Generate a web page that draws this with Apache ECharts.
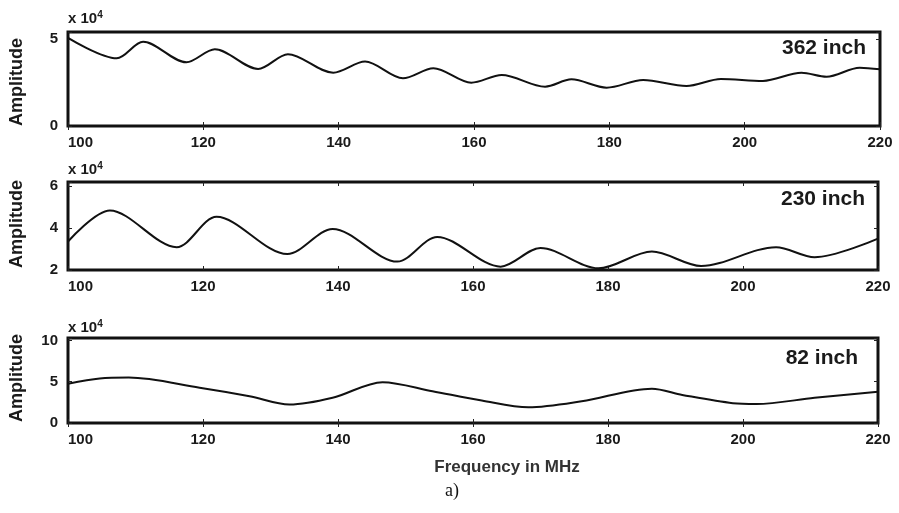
<!DOCTYPE html>
<html><head><meta charset="utf-8">
<script src="https://cdn.jsdelivr.net/npm/echarts@6/dist/echarts.min.js"></script>
<style>html,body{margin:0;padding:0;background:#fff}#c{width:899px;height:513px}</style>
</head><body><div id="c"></div>
<script>
// Frequency tick labels (MHz)
const xTicks = [100, 120, 140, 160, 180, 200, 220];
const panelLabels = ['362 inch', '230 inch', '82 inch'];

// 362 inch (amplitude in units of 1e4)
const freq362 = [100, 107.2, 111.1, 117.5, 121.7, 128.1, 132.5, 139.2, 143.9, 149.5, 154.0, 159.6, 164.1, 170.5, 174.4, 179.6, 185.0, 191.4, 196.5, 202.7, 208.4, 212.1, 217.0, 220];
const amp362  = [5.06, 3.89, 4.84, 3.66, 4.41, 3.28, 4.12, 3.06, 3.70, 2.74, 3.32, 2.49, 2.93, 2.26, 2.68, 2.20, 2.64, 2.30, 2.70, 2.59, 3.06, 2.83, 3.35, 3.26];

// 230 inch
const freq230 = [100, 106.2, 116.1, 122.0, 132.5, 139.2, 148.8, 154.7, 164.1, 170.0, 178.6, 186.5, 193.8, 204.9, 210.6, 220];
const amp230  = [3.36, 4.84, 3.09, 4.54, 2.76, 3.96, 2.40, 3.58, 2.16, 3.05, 2.08, 2.88, 2.19, 3.09, 2.61, 3.50];

// 82 inch
const freq82 = [100, 104.7, 109, 119.5, 126.9, 132.8, 139.2, 146.6, 154, 161.3, 168.2, 176.1, 186.5, 191, 198.5, 202, 210.6, 220];
const amp82  = [4.76, 5.40, 5.50, 4.27, 3.24, 2.23, 3.05, 4.95, 3.85, 2.72, 1.90, 2.63, 4.15, 3.40, 2.40, 2.30, 3.05, 3.78];

const FONT = '"Liberation Sans", Arial, sans-serif';
const TXT = '#1a1a1a';

const grids = [
  {left: 68, top: 32, width: 812, height: 94},
  {left: 68, top: 182, width: 810, height: 88},
  {left: 68, top: 338, width: 810, height: 85}
];
const yCfg = [
  {min: 0, max: 5.4, interval: 5},
  {min: 2, max: 6.2, interval: 2},
  {min: 0, max: 10.3, interval: 5}
];
const seriesData = [
  freq362.map((f, i) => [f, amp362[i]]),
  freq230.map((f, i) => [f, amp230[i]]),
  freq82.map((f, i) => [f, amp82[i]])
];

const xAxis = [], yAxis = [], series = [];
grids.forEach((g, i) => {
  xAxis.push({
    type: 'value', gridIndex: i, min: xTicks[0], max: xTicks[xTicks.length - 1], interval: 20,
    position: 'bottom',
    axisLine: {show: false}, splitLine: {show: false},
    axisTick: {show: true, inside: true, length: 4, lineStyle: {color: '#222', width: 1}},
    axisLabel: {show: true, margin: 9, color: TXT, fontFamily: FONT, fontWeight: 'bold', fontSize: 15, alignMinLabel: 'left'}
  });
  xAxis.push({
    type: 'value', gridIndex: i, min: xTicks[0], max: xTicks[xTicks.length - 1], interval: 20,
    position: 'top',
    axisLine: {show: false}, splitLine: {show: false},
    axisTick: {show: true, inside: true, length: 4, lineStyle: {color: '#222', width: 1}},
    axisLabel: {show: false}
  });
  const yc = yCfg[i];
  const fmt = v => (Math.abs(v / yc.interval - Math.round(v / yc.interval)) < 1e-6 ? String(Math.round(v)) : '');
  yAxis.push({
    type: 'value', gridIndex: i, min: yc.min, max: yc.max, interval: yc.interval, position: 'left',
    axisLine: {show: false}, splitLine: {show: false},
    axisTick: {show: true, inside: true, length: 4, lineStyle: {color: '#222', width: 1}},
    axisLabel: {show: true, margin: 10, color: TXT, fontFamily: FONT, fontWeight: 'bold', fontSize: 15, formatter: fmt}
  });
  yAxis.push({
    type: 'value', gridIndex: i, min: yc.min, max: yc.max, interval: yc.interval, position: 'right',
    axisLine: {show: false}, splitLine: {show: false},
    axisTick: {show: true, inside: true, length: 4, lineStyle: {color: '#222', width: 1}},
    axisLabel: {show: false}
  });
  series.push({
    type: 'line', xAxisIndex: i * 2, yAxisIndex: i * 2, data: seriesData[i],
    smooth: 0.32, showSymbol: false, symbol: 'none', silent: true,
    lineStyle: {color: '#111', width: 2}
  });
});

const graphic = [];
const expY = [18, 169, 327];
const ampY = [82, 224, 378];
const labPos = [[866, 48], [865, 199], [858, 358]];
for (let i = 0; i < 3; i++) {
  graphic.push({
    type: 'text', x: 68, y: expY[i],
    style: {
      text: '{a|x 10}{b|4}', align: 'left', verticalAlign: 'middle', fill: TXT,
      rich: {
        a: {fontFamily: FONT, fontWeight: 'bold', fontSize: 15, lineHeight: 16, fill: TXT, verticalAlign: 'bottom'},
        b: {fontFamily: FONT, fontWeight: 'bold', fontSize: 10, lineHeight: 10, fill: TXT, verticalAlign: 'top'}
      }
    }
  });
  graphic.push({
    type: 'text', x: 17, y: ampY[i], rotation: Math.PI / 2,
    style: {text: 'Amplitude', fontFamily: FONT, fontWeight: 'bold', fontSize: 18, fill: TXT, align: 'center', verticalAlign: 'middle'}
  });
  graphic.push({
    type: 'text', x: labPos[i][0], y: labPos[i][1],
    style: {text: panelLabels[i], fontFamily: FONT, fontWeight: 'bold', fontSize: 21, fill: TXT, align: 'right', verticalAlign: 'middle'}
  });
}
graphic.push({
  type: 'text', x: 507, y: 467,
  style: {text: 'Frequency in MHz', fontFamily: FONT, fontWeight: 'bold', fontSize: 17, fill: '#333', align: 'center', verticalAlign: 'middle'}
});
graphic.push({
  type: 'text', x: 452, y: 491,
  style: {text: 'a)', fontFamily: '"Liberation Serif", "Times New Roman", serif', fontSize: 18, fill: '#111', align: 'center', verticalAlign: 'middle'}
});

const chart = echarts.init(document.getElementById('c'), null, {renderer: 'canvas'});
chart.setOption({
  animation: false,
  backgroundColor: '#fff',
  grid: grids.map(g => Object.assign({show: true, borderColor: '#111', borderWidth: 3, backgroundColor: 'transparent'}, g)),
  xAxis, yAxis, series, graphic
});
</script></body></html>
